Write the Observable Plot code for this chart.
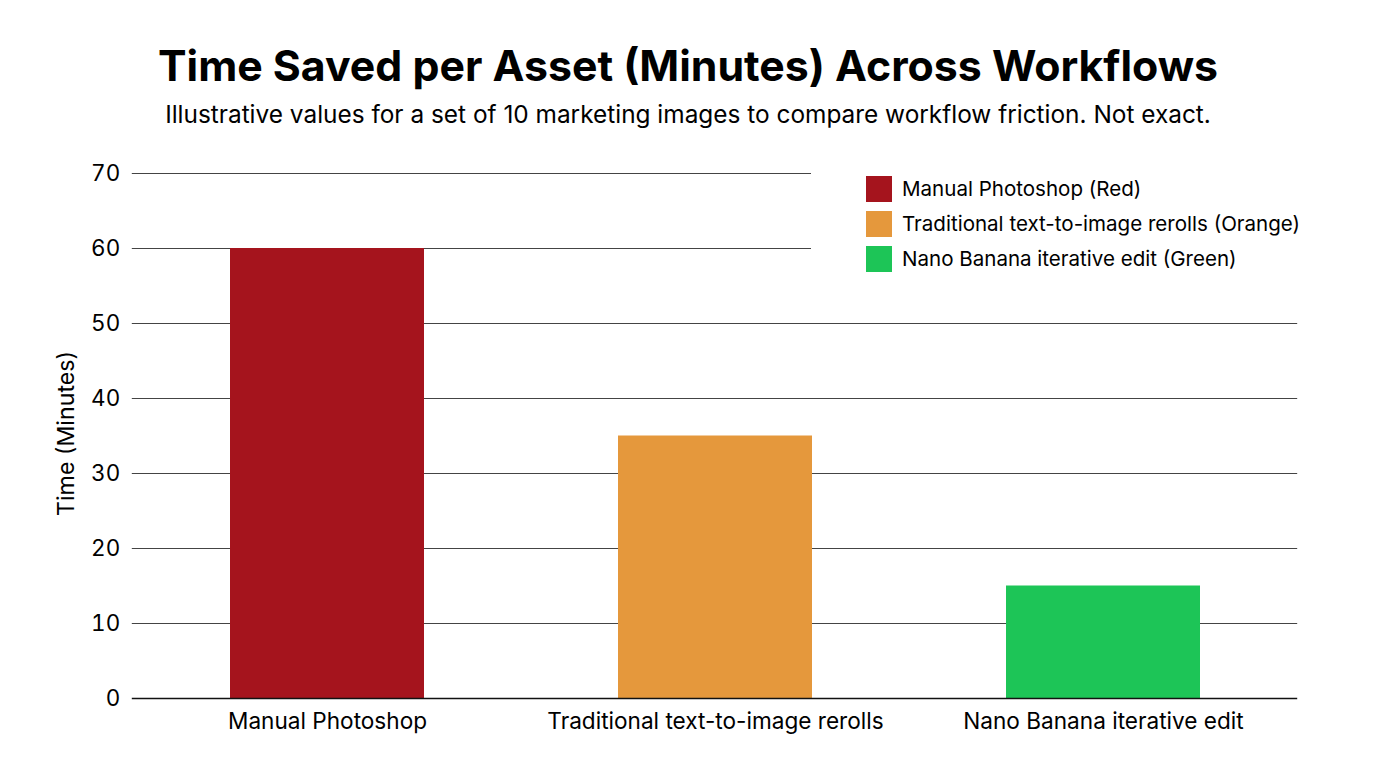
<!DOCTYPE html>
<html><head><meta charset="utf-8">
<script src="https://cdn.jsdelivr.net/npm/d3@7"></script>
<script src="https://cdn.jsdelivr.net/npm/@observablehq/plot@0.6"></script>
<style>
html,body{margin:0;padding:0;background:#fff;width:1376px;height:768px;overflow:hidden;font-family:Inter,sans-serif;color:#000}
#title{position:absolute;left:0;width:1376px;top:38px;text-align:center;font-size:42.8px;font-weight:700;line-height:56px;white-space:nowrap}
#sub{position:absolute;left:0;width:1376px;top:98px;text-align:center;font-size:24.4px;line-height:32px;white-space:nowrap}
#chart{position:absolute;left:0;top:150px}
#legend{position:absolute;left:811px;top:165px;width:520px;height:112px;background:#fff}
.sw{position:absolute;left:55px;width:26px;height:26px}
.lb{position:absolute;left:91px;font-size:20.55px;line-height:26px;white-space:nowrap}
</style></head><body>
<div id="title"></div><div id="sub"></div><div id="chart"></div><div id="legend"></div>
<script>
const titleText = "Time Saved per Asset (Minutes) Across Workflows";
const subtitleText = "Illustrative values for a set of 10 marketing images to compare workflow friction. Not exact.";
const yAxisLabel = "Time (Minutes)";
const categories = ["Manual Photoshop","Traditional text-to-image rerolls","Nano Banana iterative edit"];
const minutes = [60,35,15];
const colors = ["#a5141d","#e5983c","#1dc557"];
const legendLabels = ["Manual Photoshop (Red)","Traditional text-to-image rerolls (Orange)","Nano Banana iterative edit (Green)"];
const yTicks = [0,10,20,30,40,50,60,70];
document.getElementById("title").textContent = titleText;
document.getElementById("sub").textContent = subtitleText;
const rows = categories.map((c,i)=>({category:c,value:minutes[i]}));
const plot = Plot.plot({
  width:1376, height:600,
  marginLeft:131.8, marginRight:78.8, marginTop:23, marginBottom:52,
  style:{fontFamily:"Inter, sans-serif",background:"#fff",color:"#000",overflow:"visible"},
  x:{domain:categories,paddingInner:0.5,paddingOuter:0.25,label:null},
  y:{domain:[0,70],label:null},
  color:{domain:categories,range:colors},
  marks:[
    Plot.ruleY(yTicks.filter(d=>d>0),{stroke:"#444",strokeWidth:1,strokeOpacity:1}),
    Plot.barY(rows,{x:"category",y:"value",fill:"category"}),
    Plot.ruleY([0],{stroke:"#111",strokeWidth:1.5}),
    Plot.axisX({fontSize:22.6,tickSize:0,tickPadding:14,label:null,lineWidth:40}),
    Plot.axisY({ticks:yTicks,fontSize:22.5,tickSize:0,tickPadding:12,label:null,dy:0.5}),
    Plot.text([yAxisLabel],{frameAnchor:"left",dx:-66,dy:-2.5,rotate:-90,fontSize:23.2,textAnchor:"middle"})
  ]
});
document.getElementById("chart").appendChild(plot);
const lg = document.getElementById("legend");
legendLabels.forEach((t,i)=>{
  const top = 11 + i*35;
  const s = document.createElement("div"); s.className="sw"; s.style.top=top+"px"; s.style.background=colors[i]; lg.appendChild(s);
  const l = document.createElement("div"); l.className="lb"; l.style.top=top+"px"; l.textContent=t; lg.appendChild(l);
});
</script></body></html>
